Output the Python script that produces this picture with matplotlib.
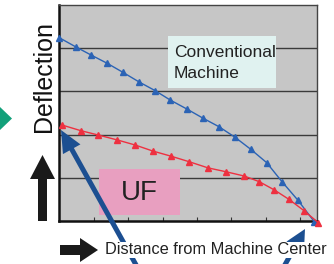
import matplotlib
matplotlib.use("Agg")
import matplotlib.pyplot as plt
from matplotlib.patches import FancyArrow, Polygon, Rectangle

# conventional machine (blue)
conv_x = [0, 0.95, 1.85, 2.78, 3.7, 4.63, 5.56, 6.45, 7.43, 8.36, 9.3,
          10.22, 11.14, 12.07, 12.96, 13.87, 14.85]
conv_y = [4.24, 4.03, 3.84, 3.65, 3.44, 3.22, 3.02, 2.80, 2.59, 2.38, 2.18,
          1.94, 1.66, 1.35, 0.91, 0.49, -0.02]

# UF (red)
uf_x = [0.16, 1.25, 2.26, 3.33, 4.40, 5.43, 6.50, 7.57, 8.65, 9.70, 10.77,
        11.64, 12.51, 13.37, 14.24, 15.08]
uf_y = [2.22, 2.09, 1.99, 1.88, 1.76, 1.62, 1.50, 1.37, 1.23, 1.14, 1.04,
        0.91, 0.72, 0.50, 0.24, -0.04]

grid_y = [1, 2, 3, 4]
tick_x = [2, 4, 6, 8, 10, 12, 14]

y_label = "Deflection"
x_label = "Distance from Machine Center"
conv_label = "Conventional\nMachine"
uf_label = "UF"

font = "Liberation Sans"

W, H = 334, 264
fig = plt.figure(figsize=(W / 100, H / 100), dpi=100)

# main chart, placed in pixel terms
L, R, T, B = 59.5, 317, 5, 221
ax = fig.add_axes([L / W, 1 - B / H, (R - L) / W, (B - T) / H])
ax.set_facecolor("#c6c6c6")
ax.set_xlim(0, 15)
ax.set_ylim(0, 5)

for g in grid_y:
    ax.axhline(g, color="#3a3a3a", lw=1, zorder=1)

ax.plot(conv_x, conv_y, color="#2b63b5", lw=1, marker="^", ms=4.8,
        clip_on=False, zorder=3)
ax.plot(uf_x, uf_y, color="#ee3040", lw=1, marker="^", ms=4.8,
        clip_on=False, zorder=3)

ax.set_xticks(tick_x)
ax.set_yticks([])
ax.tick_params(axis="x", direction="in", length=3, width=0.8,
               color="#333333", labelbottom=False)
for s in ["left", "bottom"]:
    ax.spines[s].set_linewidth(1.8)
    ax.spines[s].set_color("#111111")
for s in ["top", "right"]:
    ax.spines[s].set_linewidth(1)
    ax.spines[s].set_color("#444444")

# overlay in pixel coordinates for the labels and arrows
ov = fig.add_axes([0, 0, 1, 1], zorder=5)
ov.set_xlim(0, W)
ov.set_ylim(H, 0)
ov.axis("off")
ov.patch.set_alpha(0)

# labelled boxes
ov.add_patch(Rectangle((168, 36), 108, 52, color="#e0f2f0", lw=0))
ov.text(174, 63, conv_label, family=font, fontsize=12.5, color="#222222",
        ha="left", va="center", linespacing=1.45)
ov.add_patch(Rectangle((99, 169), 81, 46, color="#e89fc0", lw=0))
ov.text(139.5, 193, uf_label, family=font, fontsize=20, color="#222222",
        ha="center", va="center")

# axis captions with arrows
ov.text(44, 76, y_label, family=font, fontsize=18, color="#111111",
        rotation=90, ha="center", va="center")
ov.add_patch(FancyArrow(42.5, 221, 0, -66, width=9, head_width=25,
                        head_length=24, length_includes_head=True,
                        color="#1a1a1a", lw=0))
ov.add_patch(FancyArrow(60, 250, 38, 0, width=10, head_width=24,
                        head_length=18, length_includes_head=True,
                        color="#1a1a1a", lw=0))
ov.add_patch(Polygon([(0, 107), (12, 118.5), (0, 130)], closed=True,
                     color="#12a07a", lw=0))

# blue pointer arrows (pass under the caption)
ov.add_patch(FancyArrow(140, 272, -79, -142, width=5, head_width=20,
                        head_length=22, length_includes_head=True,
                        color="#1c4f91", lw=0, zorder=2))
ov.add_patch(FancyArrow(282, 270, 23, -41, width=5, head_width=20,
                        head_length=20, length_includes_head=True,
                        color="#1c4f91", lw=0, zorder=2))
ov.text(216, 250, x_label, family=font, fontsize=11.8, color="#222222",
        ha="center", va="center", zorder=4,
        bbox=dict(boxstyle="square,pad=0.05", fc="white", ec="none"))

fig.savefig("out.png", dpi=100)
